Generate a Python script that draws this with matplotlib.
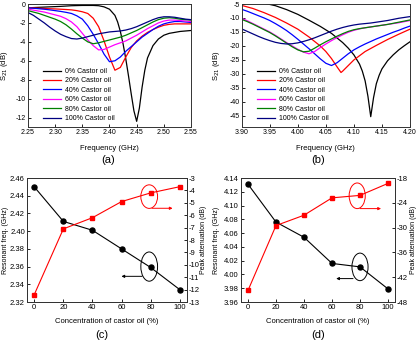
import matplotlib
matplotlib.use("Agg")
import matplotlib.pyplot as plt
from matplotlib.patches import Ellipse

plt.rcParams["font.family"] = ["Liberation Sans", "DejaVu Sans"]
plt.rcParams["axes.linewidth"] = 0.7
plt.rcParams["axes.edgecolor"] = "#333333"
plt.rcParams["axes.unicode_minus"] = False

# ---- panel (a): S21 around 2.45 GHz ----
freq_a = [2.25, 2.26, 2.27, 2.28, 2.29, 2.30, 2.31, 2.32, 2.33, 2.34, 2.35,
          2.36, 2.37, 2.38, 2.39, 2.40, 2.41, 2.42, 2.43, 2.44, 2.45, 2.46,
          2.47, 2.48, 2.49, 2.50, 2.51, 2.52, 2.53, 2.54, 2.55]
freq_a0 = [2.25, 2.27, 2.29, 2.31, 2.33, 2.35, 2.37, 2.38, 2.39, 2.40, 2.41,
           2.415, 2.42, 2.425, 2.43, 2.435, 2.44, 2.445, 2.45, 2.455, 2.46,
           2.465, 2.47, 2.48, 2.49, 2.50, 2.51, 2.52, 2.53, 2.54, 2.55]
s21_a0 = [-0.40, -0.35, -0.30, -0.25, -0.18, -0.15, -0.15, -0.18, -0.30, -0.55,
          -1.2, -1.9, -2.9, -4.2, -5.8, -7.6, -9.5, -11.3, -12.4, -11.0, -8.8,
          -7.0, -5.7, -4.4, -3.7, -3.3, -3.1, -3.0, -2.9, -2.85, -2.8]
s21_a20 = [-0.40, -0.42, -0.45, -0.48, -0.50, -0.52, -0.55, -0.58, -0.62, -0.70,
           -0.82, -1.0, -1.5, -2.4, -3.9, -5.6, -7.0, -6.7, -5.6, -4.6, -3.9,
           -3.4, -3.0, -2.7, -2.45, -2.25, -2.15, -2.1, -2.1, -2.1, -2.1]
s21_a40 = [-0.40, -0.45, -0.50, -0.55, -0.62, -0.70, -0.78, -0.88, -1.0, -1.25,
           -1.6, -2.3, -3.2, -4.2, -5.3, -6.1, -6.0, -5.6, -5.0, -4.5, -4.0,
           -3.5, -3.1, -2.7, -2.35, -2.1, -1.95, -1.85, -1.85, -1.9, -1.95]
s21_a60 = [-0.55, -0.65, -0.75, -0.85, -1.0, -1.15, -1.3, -1.55, -1.9, -2.4,
           -3.1, -3.8, -4.4, -4.85, -4.8, -4.55, -4.3, -4.1, -3.9, -3.6, -3.3,
           -2.95, -2.6, -2.3, -2.0, -1.8, -1.7, -1.7, -1.75, -1.8, -1.85]
s21_a80 = [-0.70, -0.85, -1.0, -1.2, -1.4, -1.6, -1.85, -2.2, -2.65, -3.15,
           -3.6, -4.0, -4.2, -4.1, -3.95, -3.8, -3.65, -3.5, -3.3, -3.05, -2.8,
           -2.5, -2.2, -1.9, -1.65, -1.5, -1.45, -1.5, -1.6, -1.65, -1.7]
s21_a100 = [-0.90, -1.2, -1.6, -2.0, -2.45, -2.85, -3.2, -3.45, -3.65, -3.7,
            -3.6, -3.45, -3.3, -3.15, -3.05, -2.95, -2.9, -2.85, -2.75, -2.6,
            -2.4, -2.15, -1.9, -1.65, -1.45, -1.35, -1.35, -1.4, -1.5, -1.6, -1.65]

# ---- panel (b): S21 around 4.1 GHz ----
freq_b = [3.90, 3.91, 3.92, 3.93, 3.94, 3.95, 3.96, 3.97, 3.98, 3.99, 4.00,
          4.01, 4.02, 4.03, 4.04, 4.05, 4.06, 4.07, 4.08, 4.09, 4.10, 4.11,
          4.12, 4.13, 4.14, 4.15, 4.16, 4.17, 4.18, 4.19, 4.20]
freq_b0 = [3.90, 3.92, 3.94, 3.96, 3.98, 4.00, 4.02, 4.04, 4.06, 4.08, 4.09,
           4.10, 4.11, 4.115, 4.12, 4.125, 4.13, 4.135, 4.14, 4.145, 4.15,
           4.16, 4.17, 4.18, 4.19, 4.20]
s21_b0 = [-3.6, -4.1, -4.7, -5.6, -7.0, -8.7, -10.8, -13.0, -15.5, -18.8, -20.8,
          -23.2, -26.5, -29.0, -32.5, -38.0, -45.3, -38.5, -33.5, -30.5, -28.2,
          -25.3, -23.2, -21.4, -19.9, -18.5]
freq_b20 = [3.90, 3.92, 3.94, 3.96, 3.98, 4.00, 4.02, 4.04, 4.05, 4.06, 4.07,
            4.077, 4.08, 4.09, 4.10, 4.12, 4.14, 4.16, 4.18, 4.20]
s21_b20 = [-5.5, -6.6, -8.1, -9.8, -11.8, -14.0, -16.8, -20.0, -22.0, -24.5,
           -27.5, -29.5, -29.0, -27.0, -25.0, -22.0, -19.8, -17.7, -15.8, -14.0]
s21_b40 = [-6.9, -7.6, -8.4, -9.2, -10.0, -10.9, -12.0, -13.2, -14.5, -16.0,
           -17.6, -19.3, -21.0, -22.8, -24.6, -26.2, -27.0, -26.0, -24.4, -22.8,
           -21.4, -20.3, -19.3, -18.4, -17.5, -16.7, -15.9, -15.1, -14.4, -13.6, -12.9]
s21_b60 = [-10.1, -11.0, -12.0, -13.0, -14.0, -15.0, -16.2, -17.5, -18.8, -20.0,
           -21.2, -22.2, -22.8, -22.0, -20.6, -19.3, -18.1, -17.0, -16.0, -15.1,
           -14.4, -13.9, -13.5, -13.2, -12.9, -12.6, -12.3, -12.0, -11.7, -11.3, -10.9]
s21_b80 = [-10.5, -11.3, -12.2, -13.2, -14.2, -15.2, -16.4, -17.7, -19.0, -20.3,
           -21.4, -22.1, -21.9, -20.8, -19.6, -18.5, -17.5, -16.5, -15.6, -14.8,
           -14.2, -13.8, -13.5, -13.2, -12.9, -12.6, -12.3, -11.9, -11.5, -11.1, -10.7]
s21_b100 = [-13.9, -14.8, -15.7, -16.6, -17.4, -18.1, -18.7, -19.1, -19.3, -19.2,
            -18.9, -18.4, -17.8, -17.1, -16.3, -15.5, -14.7, -14.0, -13.4, -12.9,
            -12.5, -12.2, -12.0, -11.8, -11.5, -11.2, -10.9, -10.5, -10.1, -9.8, -9.5]

# ---- panels (c), (d): extracted resonances ----
conc = [0, 20, 40, 60, 80, 100]
res_freq_c = [2.450, 2.411, 2.401, 2.380, 2.359, 2.334]
peak_att_c = [-12.4, -7.1, -6.2, -4.9, -4.2, -3.7]
res_freq_d = [4.131, 4.076, 4.054, 4.016, 4.011, 3.979]
peak_att_d = [-45.2, -29.5, -27.0, -22.8, -22.2, -19.3]

labels = ["0% Castor oil", "20% Castor oil", "40% Castor oil",
          "60% Castor oil", "80% Castor oil", "100% Castor oil"]
colors = ["black", "#ff0000", "#0000ff", "#ff00ff", "#008000", "#000080"]

TICK = 5
LAB = 5.5

fig = plt.figure(figsize=(4.2, 3.43), dpi=100)
ax_a = fig.add_axes([0.0667, 0.6297, 0.388, 0.3586])
ax_b = fig.add_axes([0.5755, 0.6297, 0.4007, 0.3586])
ax_c = fig.add_axes([0.0643, 0.1195, 0.381, 0.3615])
ax_d = fig.add_axes([0.5738, 0.1195, 0.3667, 0.3615])


def style(ax, size):
    ax.tick_params(direction="in", length=2, width=0.6, labelsize=size, pad=1.5)


# (a)
ax_a.plot(freq_a0, s21_a0, color=colors[0], lw=0.9, label=labels[0])
for ys, c, lab in zip([s21_a20, s21_a40, s21_a60, s21_a80, s21_a100],
                      colors[1:], labels[1:]):
    ax_a.plot(freq_a, ys, color=c, lw=0.9, label=lab)
ax_a.set_xlim(2.25, 2.55)
ax_a.set_ylim(-13, 0)
ax_a.set_xticks([2.25, 2.30, 2.35, 2.40, 2.45, 2.50, 2.55])
ax_a.set_yticks([0, -2, -4, -6, -8, -10, -12])
style(ax_a, TICK)
ax_a.set_xlabel("Frequency (GHz)", fontsize=LAB, labelpad=1)
ax_a.set_ylabel("S$_{21}$ (dB)", fontsize=LAB)
ax_a.yaxis.set_label_coords(-0.112, 0.5)
ax_a.xaxis.set_label_coords(0.5, -0.15)
ax_a.legend(loc="lower left", bbox_to_anchor=(0.06, 0.0), frameon=False,
            fontsize=5, handlelength=2.6, labelspacing=0.35, borderpad=0.2,
            handletextpad=0.6)

# (b)
ax_b.plot(freq_b0, s21_b0, color=colors[0], lw=0.9, label=labels[0])
ax_b.plot(freq_b20, s21_b20, color=colors[1], lw=0.9, label=labels[1])
for ys, c, lab in zip([s21_b40, s21_b60, s21_b80, s21_b100],
                      colors[2:], labels[2:]):
    ax_b.plot(freq_b, ys, color=c, lw=0.9, label=lab)
ax_b.set_xlim(3.90, 4.20)
ax_b.set_ylim(-49, -5)
ax_b.set_xticks([3.90, 3.95, 4.00, 4.05, 4.10, 4.15, 4.20])
ax_b.set_yticks([-5, -10, -15, -20, -25, -30, -35, -40, -45])
style(ax_b, TICK)
ax_b.set_xlabel("Frequency (GHz)", fontsize=LAB)
ax_b.set_ylabel("S$_{21}$ (dB)", fontsize=LAB)
ax_b.yaxis.set_label_coords(-0.12, 0.5)
ax_b.xaxis.set_label_coords(0.5, -0.15)
ax_b.legend(loc="lower left", bbox_to_anchor=(0.06, 0.0), frameon=False,
            fontsize=5, handlelength=2.6, labelspacing=0.35, borderpad=0.2,
            handletextpad=0.6)


def summary(ax, freq, att, ylim_l, yticks_l, ylim_r, yticks_r, ell_b, arr_b,
            ell_r, arr_r, ylab_x, ylab_rx):
    ax.plot(conc, freq, color="black", lw=0.8, marker="o", ms=3.6)
    ax.set_xlim(-5, 105)
    ax.set_xticks(conc)
    ax.set_ylim(*ylim_l)
    ax.set_yticks(yticks_l)
    ax.yaxis.set_major_formatter(plt.FormatStrFormatter("%.2f"))
    style(ax, LAB)
    ax.set_xlabel("Concentration of castor oil (%)", fontsize=LAB)
    ax.set_ylabel("Resonant freq. (GHz)", fontsize=5)
    ax.xaxis.set_label_coords(0.5, -0.13)
    ax.yaxis.set_label_coords(ylab_x, 0.5)
    ax.add_patch(Ellipse(ell_b[:2], ell_b[2], ell_b[3], fill=False,
                         ec="black", lw=0.7))
    ax.annotate("", xy=arr_b[1], xytext=arr_b[0],
                arrowprops=dict(arrowstyle="-|>", color="black", lw=0.7,
                                mutation_scale=4))
    tw = ax.twinx()
    tw.plot(conc, att, color="#ff0000", lw=0.8, marker="s", ms=3.4)
    tw.set_ylim(*ylim_r)
    tw.set_yticks(yticks_r)
    style(tw, LAB)
    tw.set_ylabel("Peak attenuation (dB)", fontsize=5, rotation=90)
    tw.yaxis.set_label_coords(ylab_rx, 0.5)
    tw.add_patch(Ellipse(ell_r[:2], ell_r[2], ell_r[3], fill=False,
                         ec="#ff0000", lw=0.7))
    tw.annotate("", xy=arr_r[1], xytext=arr_r[0],
                arrowprops=dict(arrowstyle="-|>", color="#ff0000", lw=0.7,
                                mutation_scale=4))


summary(ax_c, res_freq_c, peak_att_c, (2.32, 2.46),
        [2.32, 2.34, 2.36, 2.38, 2.40, 2.42, 2.44, 2.46],
        (-13, -3), list(range(-13, -2)),
        (79, 2.360, 11.5, 0.033), ((76, 2.349), (58, 2.349)),
        (79, -4.5, 11.5, 1.9), ((79, -5.44), (97, -5.44)),
        -0.115, 1.081)
summary(ax_d, res_freq_d, peak_att_d, (3.96, 4.14),
        [3.96, 3.98, 4.00, 4.02, 4.04, 4.06, 4.08, 4.10, 4.12, 4.14],
        (-48, -18), [-48, -42, -36, -30, -24, -18],
        (80, 4.011, 11.5, 0.040), ((77, 3.994), (61, 3.994)),
        (78, -22.3, 11.5, 6.2), ((78, -25.4), (97, -25.4)),
        -0.136, 1.10)

fig.text(0.258, 0.534, "(a)", fontsize=8, ha="center", va="center")
fig.text(0.758, 0.534, "(b)", fontsize=8, ha="center", va="center")
fig.text(0.242, 0.023, "(c)", fontsize=8, ha="center", va="center")
fig.text(0.757, 0.023, "(d)", fontsize=8, ha="center", va="center")

fig.savefig("out.png", dpi=100)
